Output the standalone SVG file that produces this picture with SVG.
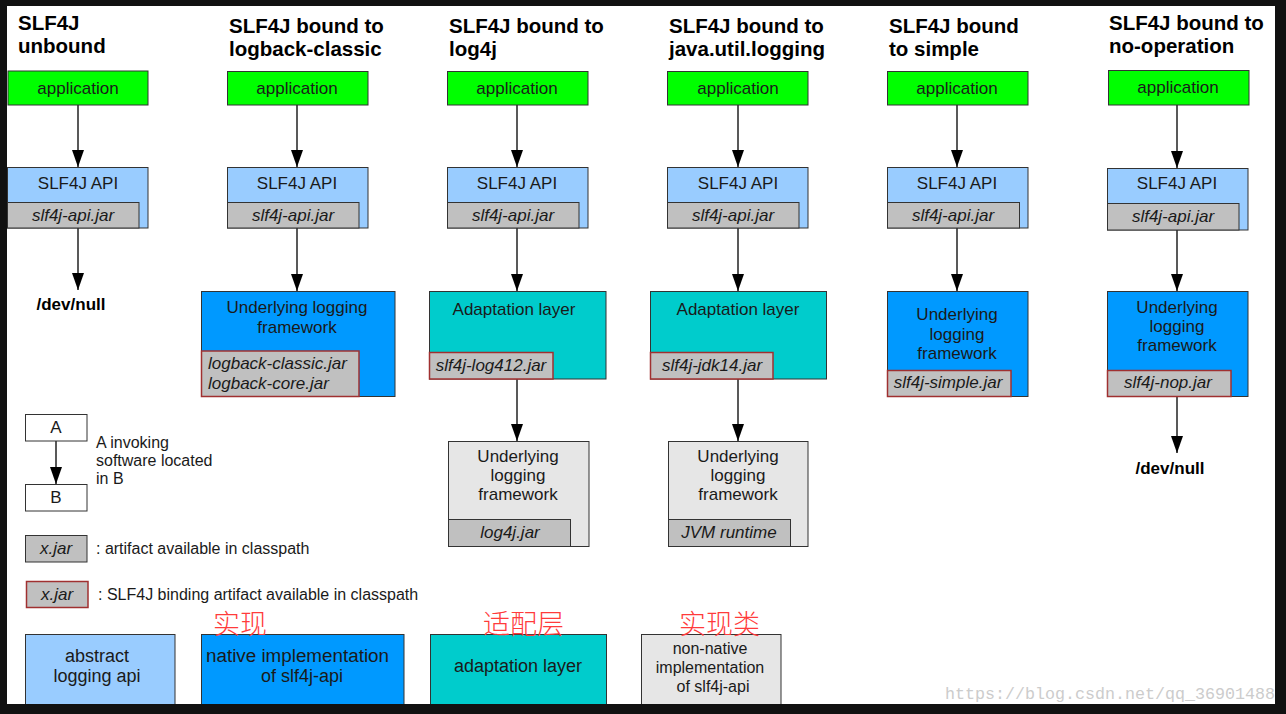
<svg xmlns="http://www.w3.org/2000/svg" width="1286" height="714" viewBox="0 0 1286 714">
<defs>
<marker id="ah" viewBox="0 0 17 12" refX="17" refY="6" markerWidth="17" markerHeight="12" markerUnits="userSpaceOnUse" orient="auto">
<path d="M0,0 L17,6 L0,12 Z" fill="#000"/>
</marker>
<style>
text{font-family:"Liberation Sans",Arial,sans-serif;fill:#1a1a1a;font-size:17px}
.t{font-weight:bold;font-size:20.5px;fill:#000}
.c{text-anchor:middle}
.i{font-style:italic}
.s{font-size:16px}
.k{font-size:18px}
.b{stroke:#333;stroke-width:1}
.app{fill:#00ff00}
.api{fill:#99ccff}
.nat{fill:#0099ff}
.ada{fill:#00cccc}
.non{fill:#e6e6e6}
.jar{fill:#c0c0c0;stroke:#333;stroke-width:1}
.bj{fill:#c0c0c0;stroke:#a03030;stroke-width:1.5}
.w{fill:#fff;stroke:#333;stroke-width:1}
.ln{stroke:#222;stroke-width:1.5;fill:none}
.cn{font-family:"Noto Sans CJK SC",sans-serif;font-size:27px;fill:#ff3b3b;font-weight:300}
.dn{font-weight:bold;font-size:17px;fill:#000}
.wm{font-family:"Liberation Mono",monospace;font-size:17px;fill:#cccccc}
</style>
</defs>
<rect x="0" y="0" width="1286" height="714" fill="#111"/>
<rect x="7" y="6" width="1268" height="698" fill="#fff"/>

<g id="titles">
<text class="t" x="18" y="30">SLF4J</text>
<text class="t" x="18" y="53">unbound</text>
<text class="t" x="229" y="33">SLF4J bound to</text>
<text class="t" x="229" y="56">logback-classic</text>
<text class="t" x="449" y="33">SLF4J bound to</text>
<text class="t" x="449" y="56">log4j</text>
<text class="t" x="669" y="33">SLF4J bound to</text>
<text class="t" x="669" y="56">java.util.logging</text>
<text class="t" x="889" y="33">SLF4J bound</text>
<text class="t" x="889" y="56">to simple</text>
<text class="t" x="1109" y="30">SLF4J bound to</text>
<text class="t" x="1109" y="53">no-operation</text>
</g>

<g id="connectors">
<line class="ln" x1="78" y1="105" x2="78" y2="167" marker-end="url(#ah)"/>
<line class="ln" x1="78" y1="228" x2="78" y2="290" marker-end="url(#ah)"/>
<line class="ln" x1="297" y1="105" x2="297" y2="167" marker-end="url(#ah)"/>
<line class="ln" x1="297" y1="228" x2="297" y2="291" marker-end="url(#ah)"/>
<line class="ln" x1="517" y1="105" x2="517" y2="167" marker-end="url(#ah)"/>
<line class="ln" x1="517" y1="228" x2="517" y2="291" marker-end="url(#ah)"/>
<line class="ln" x1="517" y1="379" x2="517" y2="441" marker-end="url(#ah)"/>
<line class="ln" x1="738" y1="105" x2="738" y2="167" marker-end="url(#ah)"/>
<line class="ln" x1="738" y1="228" x2="738" y2="291" marker-end="url(#ah)"/>
<line class="ln" x1="738" y1="379" x2="738" y2="441" marker-end="url(#ah)"/>
<line class="ln" x1="957" y1="105" x2="957" y2="167" marker-end="url(#ah)"/>
<line class="ln" x1="957" y1="228" x2="957" y2="291" marker-end="url(#ah)"/>
<line class="ln" x1="1177" y1="105" x2="1177" y2="168" marker-end="url(#ah)"/>
<line class="ln" x1="1177" y1="230" x2="1177" y2="291" marker-end="url(#ah)"/>
<line class="ln" x1="1177" y1="397" x2="1177" y2="453" marker-end="url(#ah)"/>
<line class="ln" x1="56" y1="441" x2="56" y2="484" marker-end="url(#ah)"/>
</g>

<!-- column 1 -->
<g id="c1-app"><rect class="app b" x="8" y="71" width="140" height="34"/><text class="c" x="78" y="94">application</text></g>
<g id="c1-api"><rect class="api b" x="7.5" y="167.5" width="140.5" height="60.5"/><text class="c" x="78" y="189">SLF4J API</text>
<rect class="jar" x="7.5" y="202.5" width="131.5" height="25.5"/><text class="c i" x="73" y="221">slf4j-api.jar</text></g>
<g id="c1-null"><text class="dn c" x="71" y="310">/dev/null</text></g>

<!-- column 2 -->
<g id="c2-app"><rect class="app b" x="227.5" y="71.5" width="140.5" height="33.5"/><text class="c" x="297" y="94">application</text></g>
<g id="c2-api"><rect class="api b" x="227.5" y="167.5" width="140.5" height="60.5"/><text class="c" x="297" y="189">SLF4J API</text>
<rect class="jar" x="227.5" y="202.5" width="131.5" height="25.5"/><text class="c i" x="293" y="221">slf4j-api.jar</text></g>
<g id="c2-impl"><rect class="nat b" x="201.5" y="291.5" width="193.5" height="105"/>
<text class="c" x="297" y="313">Underlying logging</text><text class="c" x="297" y="333">framework</text>
<rect class="bj" x="201.5" y="351" width="157.5" height="45.5"/>
<text class="i" x="208" y="369">logback-classic.jar</text><text class="i" x="208" y="389">logback-core.jar</text></g>

<!-- column 3 -->
<g id="c3-app"><rect class="app b" x="447.5" y="71.5" width="140.5" height="33.5"/><text class="c" x="517" y="94">application</text></g>
<g id="c3-api"><rect class="api b" x="447.5" y="167.5" width="140.5" height="60.5"/><text class="c" x="517" y="189">SLF4J API</text>
<rect class="jar" x="447.5" y="202.5" width="131.5" height="25.5"/><text class="c i" x="513" y="221">slf4j-api.jar</text></g>
<g id="c3-adapt"><rect class="ada b" x="429.5" y="291.5" width="176.5" height="87.5"/>
<text class="c" x="514" y="315">Adaptation layer</text>
<rect class="bj" x="429.5" y="352.5" width="123.5" height="26.5"/><text class="c i" x="491" y="371">slf4j-log412.jar</text></g>
<g id="c3-impl"><rect class="non b" x="448.5" y="441.5" width="140.5" height="105"/>
<text class="c" x="518" y="462">Underlying</text><text class="c" x="518" y="481">logging</text><text class="c" x="518" y="500">framework</text>
<rect class="jar" x="448.5" y="519.5" width="122" height="27"/><text class="c i" x="510" y="538">log4j.jar</text></g>

<!-- column 4 -->
<g id="c4-app"><rect class="app b" x="667.5" y="71.5" width="140.5" height="33.5"/><text class="c" x="738" y="94">application</text></g>
<g id="c4-api"><rect class="api b" x="667.5" y="167.5" width="140.5" height="60.5"/><text class="c" x="738" y="189">SLF4J API</text>
<rect class="jar" x="667.5" y="202.5" width="131.5" height="25.5"/><text class="c i" x="733" y="221">slf4j-api.jar</text></g>
<g id="c4-adapt"><rect class="ada b" x="650.5" y="291.5" width="176" height="87.5"/>
<text class="c" x="738" y="315">Adaptation layer</text>
<rect class="bj" x="650.5" y="352.5" width="122.5" height="26.5"/><text class="c i" x="712" y="371">slf4j-jdk14.jar</text></g>
<g id="c4-impl"><rect class="non b" x="668.5" y="441.5" width="139.5" height="105"/>
<text class="c" x="738" y="462">Underlying</text><text class="c" x="738" y="481">logging</text><text class="c" x="738" y="500">framework</text>
<rect class="jar" x="668.5" y="519.5" width="122" height="27"/><text class="c i" x="729" y="538">JVM runtime</text></g>

<!-- column 5 -->
<g id="c5-app"><rect class="app b" x="887.5" y="71.5" width="140.5" height="33.5"/><text class="c" x="957" y="94">application</text></g>
<g id="c5-api"><rect class="api b" x="887.5" y="167.5" width="140.5" height="60.5"/><text class="c" x="957" y="189">SLF4J API</text>
<rect class="jar" x="887.5" y="202.5" width="132" height="25.5"/><text class="c i" x="953" y="221">slf4j-api.jar</text></g>
<g id="c5-impl"><rect class="nat b" x="887.5" y="291.5" width="140.5" height="105"/>
<text class="c" x="957" y="320">Underlying</text><text class="c" x="957" y="340">logging</text><text class="c" x="957" y="359">framework</text>
<rect class="bj" x="887.5" y="370.5" width="123.5" height="26"/><text class="c i" x="948" y="388">slf4j-simple.jar</text></g>

<!-- column 6 -->
<g id="c6-app"><rect class="app b" x="1108.5" y="70.5" width="140.5" height="34.5"/><text class="c" x="1178" y="93">application</text></g>
<g id="c6-api"><rect class="api b" x="1107.5" y="168.5" width="140.5" height="61.5"/><text class="c" x="1177" y="189">SLF4J API</text>
<rect class="jar" x="1107.5" y="203.5" width="131.5" height="26.5"/><text class="c i" x="1173" y="222">slf4j-api.jar</text></g>
<g id="c6-impl"><rect class="nat b" x="1107.5" y="291.5" width="140.5" height="105"/>
<text class="c" x="1177" y="313">Underlying</text><text class="c" x="1177" y="332">logging</text><text class="c" x="1177" y="351">framework</text>
<rect class="bj" x="1107.5" y="370.5" width="123.5" height="26"/><text class="c i" x="1168" y="388">slf4j-nop.jar</text></g>
<g id="c6-null"><text class="dn c" x="1170" y="474">/dev/null</text></g>

<!-- legend -->
<g id="legend-A"><rect class="w" x="25.5" y="414.5" width="61.5" height="26.5"/><text class="c" x="56" y="433">A</text></g>
<g id="legend-B"><rect class="w" x="25.5" y="484.5" width="61.5" height="26.5"/><text class="c" x="56" y="503">B</text></g>
<g id="legend-invoke"><text class="s" x="96" y="448">A invoking</text><text class="s" x="96" y="466">software located</text><text class="s" x="96" y="484">in B</text></g>
<g id="legend-jar"><rect class="jar" x="25.5" y="535.5" width="61.5" height="26.5"/><text class="c i" x="56" y="554">x.jar</text>
<text class="s" x="96" y="554">: artifact available in classpath</text></g>
<g id="legend-bind"><rect class="bj" x="26.5" y="581.5" width="61.5" height="26"/><text class="c i" x="57" y="600">x.jar</text>
<text class="s" x="98" y="600">: SLF4J binding artifact available in classpath</text></g>

<g id="key-abstract"><rect class="api b" x="25.5" y="634.5" width="149.5" height="75"/><text class="c k" x="97" y="662">abstract</text><text class="c k" x="97" y="682">logging api</text></g>
<g id="key-native"><rect class="nat b" x="201.5" y="634.5" width="202.5" height="75"/><text class="k" x="206" y="662" textLength="183" lengthAdjust="spacingAndGlyphs">native implementation</text><text class="c k" x="302" y="682">of slf4j-api</text></g>
<g id="key-adapt"><rect class="ada b" x="430.5" y="634.5" width="176" height="75"/><text class="c k" x="518" y="672">adaptation layer</text></g>
<g id="key-non"><rect class="non b" x="641.5" y="634.5" width="139.5" height="75"/><text class="c s" x="710" y="654">non-native</text><text class="c s" x="710" y="673">implementation</text><text class="c s" x="713" y="692">of slf4j-api</text></g>
<rect x="0" y="704" width="1286" height="10" fill="#111"/>

<g id="cn-labels">
<text class="cn" x="213" y="634">实现</text>
<text class="cn" x="483" y="634">适配层</text>
<text class="cn" x="679" y="634">实现类</text>
</g>
<text class="wm" x="945" y="699" textLength="330" lengthAdjust="spacingAndGlyphs">https://blog.csdn.net/qq_36901488</text>
</svg>
